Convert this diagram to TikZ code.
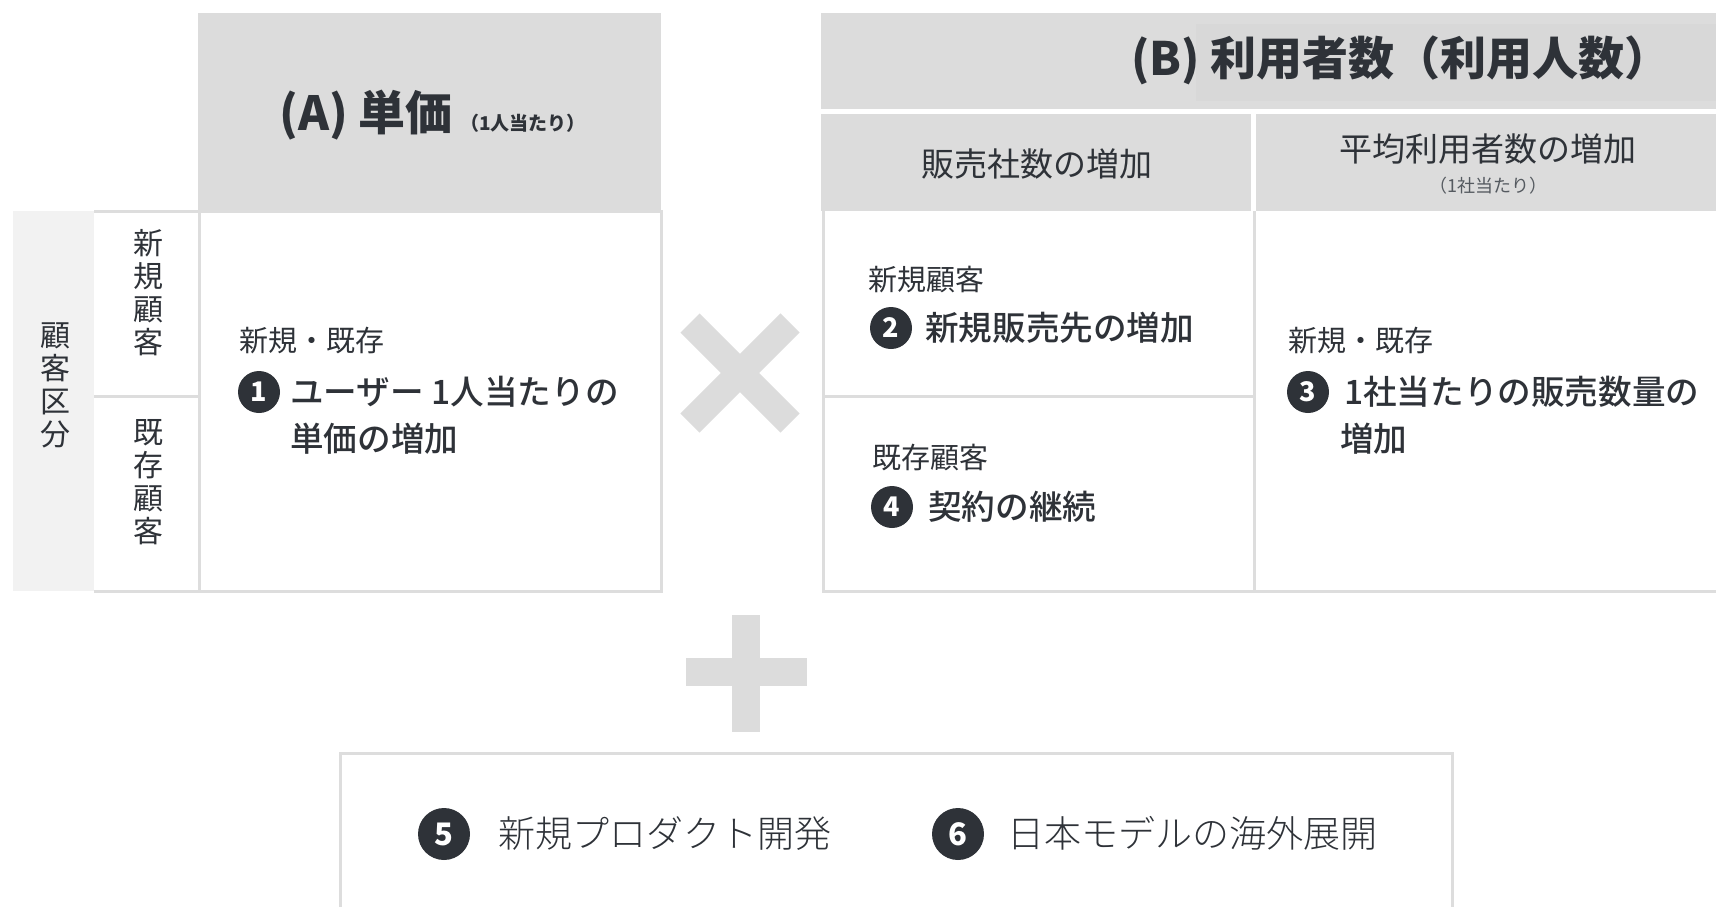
\documentclass[tikz,border=0pt]{standalone}
\usepackage{fontspec}
\setmainfont{Noto Sans CJK JP}
\newfontfamily\medfont{Noto Sans CJK JP Medium}
\newfontfamily\lightfont{Noto Sans CJK JP Light}
\usepackage{tikz}
\usetikzlibrary{positioning}
\usepackage{xcolor}
\definecolor{ink}{HTML}{2E3238}
\definecolor{headgray}{HTML}{DCDCDC}
\definecolor{headdark}{HTML}{D8D8D8}
\definecolor{linegray}{HTML}{DDDDDD}
\definecolor{stripgray}{HTML}{F2F2F2}
\definecolor{subgray}{HTML}{555A60}
\newcommand{\sz}[2]{\fontsize{#1}{#2}\selectfont}

\begin{document}
\begin{tikzpicture}[x=1pt, y=-1pt, text=ink,
    rule/.style={linegray, line width=3pt},
    numdot/.style={circle, fill=ink, text=white, minimum size=42pt, inner sep=0pt, font=\sz{27}{27}\bfseries},
    bigdot/.style={numdot, minimum size=52pt, font=\sz{31}{31}\bfseries},
    lbl/.style={anchor=base west, inner sep=0pt, font=\sz{29}{29}},
    item/.style={anchor=base west, inner sep=0pt, font=\sz{33.6}{33.6}\medfont},
    vtext/.style={align=center, inner sep=0pt, font=\sz{30}{33}}]
    \useasboundingbox (0,0) rectangle (1716,906);

    % Header A
    \fill[headgray] (198,13) rectangle (661,211);
    \node[anchor=west, inner sep=0pt, font=\sz{47}{47}\bfseries] (headA) at (279,115) {(A) 単価\,{\sz{19}{19}（1人当たり）}};

    % Customer segments
    \fill[stripgray] (13,211) rectangle (94,591);
    \node[vtext] (segAll) at (55,385) {顧\\客\\区\\分};
    \node[vtext] (segNew) at (148,293) {新\\規\\顧\\客};
    \node[vtext] (segOld) at (148,482) {既\\存\\顧\\客};
    \draw[rule] (94,211) -- (199,211);
    \draw[rule] (94,396) -- (199,396);
    \draw[rule] (94,591) -- (199,591);

    % Body A
    \draw[rule] (199,211) rectangle (661,591);
    \node[lbl] (bothA) at (239,351) {新規・既存};
    \node[numdot] (n1) at (259,392) {1};
    \node[item] (itemA1) at (290,404) {ユーザー 1人当たりの};
    \node[item] (itemA2) at (290,451) {単価の増加};

    % Times
    \draw[headgray, line width=27pt] (690,323) -- (790,423);
    \draw[headgray, line width=27pt] (690,423) -- (790,323);

    % Header B
    \fill[headgray] (821,13) rectangle (1716,109);
    \fill[headdark] (1196,24) rectangle (1716,101);
    \node[anchor=east, inner sep=0pt, font=\sz{46}{46}\bfseries] (headB) at (1671,60) {(B) 利用者数（利用人数）};
    \fill[headgray] (821,114) rectangle (1251,211);
    \fill[headgray] (1256,114) rectangle (1716,211);
    \node[font=\sz{33}{33}] (salesCo) at (1037,164) {販売社数の増加};
    \node[font=\sz{33}{33}] (avgUser) at (1488,149) {平均利用者数の増加};
    \node[font=\sz{18}{18}, text=subgray] (perCo) at (1488,186) {（1社当たり）};

    % Body B
    \draw[rule] (823,211) -- (823,591) -- (1720,591);
    \draw[rule] (1254,211) -- (1254,591);
    \draw[rule] (823,396) -- (1254,396);
    \node[lbl] (newB) at (868,290) {新規顧客};
    \node[numdot] (n2) at (891,328) {2};
    \node[item] (itemB2) at (925,340) {新規販売先の増加};
    \node[lbl] (oldB) at (872,468) {既存顧客};
    \node[numdot] (n4) at (892,507) {4};
    \node[item] (itemB4) at (928,519) {契約の継続};
    \node[lbl] (bothB) at (1288,351) {新規・既存};
    \node[numdot] (n3) at (1308,392) {3};
    \node[item] (itemB3a) at (1344,404) {1社当たりの販売数量の};
    \node[item] (itemB3b) at (1340,451) {増加};

    % Plus
    \draw[headgray, line width=28pt] (746,615) -- (746,732);
    \draw[headgray, line width=28pt] (686,672) -- (807,672);

    % Bottom box
    \draw[rule] (340,920) -- (340,753) -- (1452,753) -- (1452,920);
    \node[bigdot] (n5) at (444,834) {5};
    \node[anchor=base west, inner sep=0pt, font=\sz{37}{37}\lightfont] (newProd) at (498,847) {新規プロダクト開発};
    \node[bigdot] (n6) at (958,834) {6};
    \node[anchor=base west, inner sep=0pt, font=\sz{37}{37}\lightfont] (overseas) at (1007,847) {日本モデルの海外展開};
\end{tikzpicture}
\end{document}
